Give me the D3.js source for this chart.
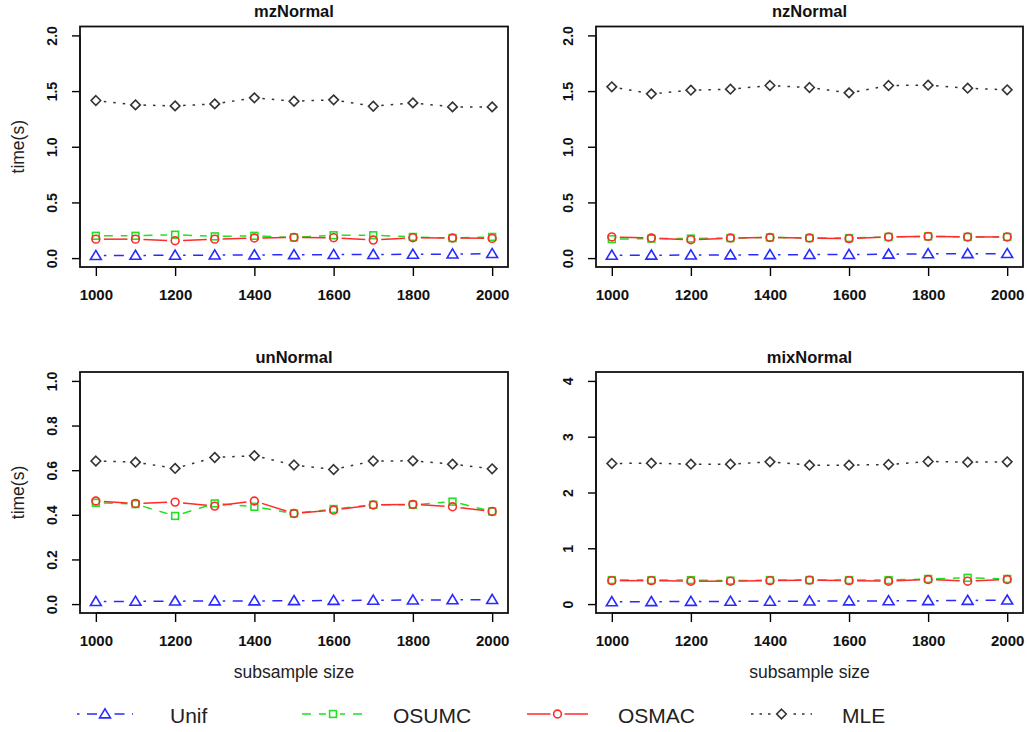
<!DOCTYPE html>
<html><head><meta charset="utf-8">
<script src="https://cdn.jsdelivr.net/npm/d3@7/dist/d3.min.js"></script>
<style>
body{margin:0;background:#fff;}
svg{display:block;font-family:"Liberation Sans",Arial,Helvetica,sans-serif;}
</style></head>
<body><svg id="c" width="1027" height="732"></svg>
<script>
// ---- data ----
const sizes = [1000,1100,1200,1300,1400,1500,1600,1700,1800,1900,2000];
const xTicks = [1000,1200,1400,1600,1800,2000];
const panelTitles = ["mzNormal","nzNormal","unNormal","mixNormal"];
const methods = ["Unif","OSUMC","OSMAC","MLE"];

const mzUnif  = [0.022,0.024,0.025,0.027,0.028,0.030,0.031,0.032,0.034,0.036,0.040];
const mzOSUMC = [0.200,0.200,0.210,0.195,0.200,0.185,0.205,0.205,0.190,0.180,0.190];
const mzOSMAC = [0.170,0.170,0.156,0.170,0.180,0.186,0.183,0.162,0.183,0.180,0.177];
const mzMLE   = [1.415,1.376,1.367,1.385,1.439,1.409,1.421,1.364,1.394,1.358,1.358];

const nzUnif  = [0.025,0.026,0.027,0.028,0.030,0.031,0.032,0.035,0.038,0.039,0.040];
const nzOSUMC = [0.170,0.175,0.175,0.180,0.185,0.180,0.180,0.190,0.195,0.190,0.190];
const nzOSMAC = [0.190,0.180,0.165,0.180,0.185,0.180,0.175,0.190,0.195,0.190,0.190];
const nzMLE   = [1.538,1.475,1.508,1.517,1.550,1.532,1.484,1.550,1.553,1.526,1.511];

const unUnif  = [0.011,0.012,0.013,0.014,0.014,0.015,0.016,0.017,0.018,0.019,0.020];
const unOSUMC = [0.454,0.448,0.395,0.451,0.436,0.406,0.426,0.445,0.445,0.459,0.415];
const unOSMAC = [0.462,0.451,0.457,0.439,0.462,0.406,0.421,0.444,0.447,0.436,0.415];
const unMLE   = [0.641,0.636,0.608,0.657,0.665,0.623,0.603,0.641,0.642,0.627,0.606];

const mixUnif  = [0.040,0.043,0.046,0.048,0.050,0.053,0.055,0.058,0.060,0.065,0.070];
const mixOSUMC = [0.43,0.43,0.43,0.42,0.43,0.43,0.43,0.43,0.45,0.47,0.45];
const mixOSMAC = [0.42,0.42,0.41,0.41,0.42,0.43,0.42,0.41,0.44,0.41,0.44];
const mixMLE   = [2.520,2.526,2.508,2.508,2.550,2.490,2.490,2.502,2.556,2.544,2.550];

const yTicksTop = [0,0.5,1,1.5,2];
const yTicksUn  = [0,0.2,0.4,0.6,0.8,1.0];
const yTicksMix = [0,1,2,3,4];

// ---- styles ----
const styles = {
  Unif:  {color:"#2a2aff", dash:"2.5 7.5 10 7.5", shape:"tri"},
  OSUMC: {color:"#22e022", dash:"9 8", shape:"sq"},
  OSMAC: {color:"#ff2a2a", dash:null, shape:"circ"},
  MLE:   {color:"#333333", dash:"2.5 7", shape:"dia"}
};

const panels = [
  {title:panelTitles[0], series:[mzUnif,mzOSUMC,mzOSMAC,mzMLE], yt:yTicksTop, fmt:d3.format(".1f"), box:[80,26.5,508,267], ylab:true, xlab:false},
  {title:panelTitles[1], series:[nzUnif,nzOSUMC,nzOSMAC,nzMLE], yt:yTicksTop, fmt:d3.format(".1f"), box:[596,26.5,1023,267], ylab:false, xlab:false},
  {title:panelTitles[2], series:[unUnif,unOSUMC,unOSMAC,unMLE], yt:yTicksUn, fmt:d3.format(".1f"), box:[80,372,508,613], ylab:true, xlab:true},
  {title:panelTitles[3], series:[mixUnif,mixOSUMC,mixOSMAC,mixMLE], yt:yTicksMix, fmt:d3.format("d"), box:[596,372,1023,613], ylab:false, xlab:true}
];

const svg = d3.select("#c");

function marker(g, shape, x, y, color){
  const sw = 1.6;
  if(shape==="tri"){
    const s=5.2;
    g.append("path").attr("d",`M${x},${y-s}L${x+s*1.05},${y+s*0.75}L${x-s*1.05},${y+s*0.75}Z`)
      .attr("fill","none").attr("stroke",color).attr("stroke-width",sw);
  } else if(shape==="sq"){
    const s=3.4;
    g.append("rect").attr("x",x-s).attr("y",y-s).attr("width",2*s).attr("height",2*s)
      .attr("fill","none").attr("stroke",color).attr("stroke-width",sw);
  } else if(shape==="circ"){
    g.append("circle").attr("cx",x).attr("cy",y).attr("r",3.9)
      .attr("fill","none").attr("stroke",color).attr("stroke-width",sw);
  } else {
    const s=4.8;
    g.append("path").attr("d",`M${x},${y-s}L${x+s},${y}L${x},${y+s}L${x-s},${y}Z`)
      .attr("fill","none").attr("stroke",color).attr("stroke-width",sw);
  }
}

function seg(g, x1,y1,x2,y2, st, gap){
  const dx=x2-x1, dy=y2-y1, L=Math.hypot(dx,dy);
  if(L<=2*gap) return;
  const ux=dx/L, uy=dy/L;
  const l = g.append("line")
    .attr("x1",x1+ux*gap).attr("y1",y1+uy*gap)
    .attr("x2",x2-ux*gap).attr("y2",y2-uy*gap)
    .attr("stroke",st.color).attr("stroke-width",1.5);
  if(st.dash) l.attr("stroke-dasharray",st.dash);
}

panels.forEach(p=>{
  const [x0,y0,x1,y1] = p.box;
  const x = d3.scaleLinear().domain([960,2040]).range([x0,x1]);
  const ymax = p.yt[p.yt.length-1];
  const pad = ymax*0.04;
  const y = d3.scaleLinear().domain([-pad, ymax+pad]).range([y1,y0]);
  const g = svg.append("g");

  // axes
  const ax = g.append("g").attr("transform",`translate(0,${y1})`)
    .call(d3.axisBottom(x).tickValues(xTicks).tickSize(9).tickPadding(13).tickFormat(d3.format("d")));
  ax.select(".domain").attr("d",`M${x(xTicks[0])},0H${x(xTicks[xTicks.length-1])}`).attr("stroke-width",1.4);
  ax.selectAll(".tick line").attr("stroke-width",1.4);
  ax.selectAll(".tick text").attr("font-size",15).attr("font-weight","bold").attr("fill","#111")
    .attr("font-family","Liberation Sans, Arial, sans-serif").attr("dy","0.72em");

  const ay = g.append("g").attr("transform",`translate(${x0},0)`)
    .call(d3.axisLeft(y).tickValues(p.yt).tickSize(8).tickFormat(p.fmt));
  ay.select(".domain").attr("d",`M0,${y(p.yt[0])}V${y(ymax)}`).attr("stroke-width",1.4);
  ay.selectAll(".tick line").attr("stroke-width",1.4);
  ay.selectAll(".tick text")
    .attr("x",null).attr("dy",null)
    .attr("transform","translate(-26.5,0) rotate(-90)")
    .attr("text-anchor","middle").attr("dominant-baseline","middle")
    .attr("font-size",14).attr("font-weight","bold").attr("fill","#111")
    .attr("font-family","Liberation Sans, Arial, sans-serif");

  // box
  g.append("rect").attr("x",x0).attr("y",y0).attr("width",x1-x0).attr("height",y1-y0)
    .attr("fill","none").attr("stroke","#111").attr("stroke-width",1.8);

  // title
  g.append("text").attr("x",(x0+x1)/2).attr("y",y0-9.5).attr("text-anchor","middle")
    .attr("font-size",16.5).attr("font-weight","bold").attr("fill","#111").text(p.title);

  if(p.ylab){
    g.append("text").attr("transform",`translate(24,${(y0+y1)/2}) rotate(-90)`)
      .attr("text-anchor","middle").attr("font-size",17.5).attr("fill","#222").text("time(s)");
  }
  if(p.xlab){
    g.append("text").attr("x",(x0+x1)/2).attr("y",y1+65).attr("text-anchor","middle")
      .attr("font-size",17.5).attr("fill","#222").text("subsample size");
  }

  // series (drawn type "b": segments with gaps around points)
  methods.forEach((m,i)=>{
    const st = styles[m];
    const vals = p.series[i];
    const sg = g.append("g");
    for(let k=0;k<sizes.length-1;k++){
      seg(sg, x(sizes[k]), y(vals[k]), x(sizes[k+1]), y(vals[k+1]), st, 8);
    }
    sizes.forEach((s,k)=> marker(sg, st.shape, x(s), y(vals[k]), st.color));
  });
});

// legend
const legendPos = [
  {lx1:77, lx2:133, tx:170},
  {lx1:302, lx2:364, tx:393},
  {lx1:527, lx2:588, tx:618},
  {lx1:751, lx2:812, tx:842}
];
const lg = svg.append("g");
methods.forEach((m,i)=>{
  const st = styles[m], lp = legendPos[i], ly = 714;
  const cx = (lp.lx1+lp.lx2)/2;
  const l = lg.append("line").attr("x1",lp.lx1).attr("x2",lp.lx2).attr("y1",ly).attr("y2",ly)
    .attr("stroke",st.color).attr("stroke-width",1.5);
  if(st.dash) l.attr("stroke-dasharray", m==="MLE" ? "2.5 6" : st.dash);
  lg.append("rect").attr("x",cx-7).attr("y",ly-7).attr("width",14).attr("height",14).attr("fill","#fff");
  marker(lg, st.shape, cx, ly, st.color);
  lg.append("text").attr("x",lp.tx).attr("y",ly+8.5).attr("font-size",21).attr("fill","#222").text(m);
});
</script></body></html>
